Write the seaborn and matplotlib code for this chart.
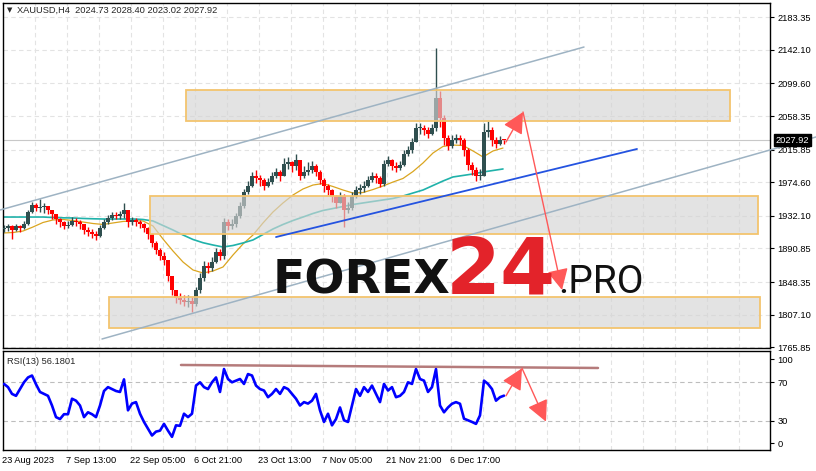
import numpy as np
import pandas as pd
import matplotlib
matplotlib.use("Agg")
import matplotlib.pyplot as plt
import seaborn as sns
from matplotlib.patches import Rectangle, FancyArrowPatch
import matplotlib.transforms as mtransforms

# ---------------- data ----------------
symbol_title = "XAUUSD,H4  2024.73 2028.40 2023.02 2027.92"
rsi_title = "RSI(13) 56.1801"

# candles (one candle per 4 H4 bars)
closes = [1916.7, 1919, 1914, 1919, 1917, 1922, 1937, 1946, 1942, 1943,
          1945, 1940, 1934, 1928, 1924, 1919, 1921, 1926, 1924, 1922,
          1914, 1912, 1909, 1907, 1917, 1924, 1929, 1933, 1932, 1934,
          1940, 1924, 1927, 1924, 1922, 1917, 1909, 1898, 1889, 1881,
          1876, 1856, 1838, 1828, 1826, 1823, 1824, 1821, 1838, 1853,
          1869, 1866, 1874, 1886, 1881, 1924, 1919, 1922, 1932, 1945,
          1962, 1970, 1983, 1980, 1977, 1970, 1975, 1983, 1988, 1983,
          1998, 2000, 1995, 2003, 1983, 1988, 1990, 1995, 1988, 1977,
          1970, 1965, 1957, 1948, 1957, 1940, 1942, 1957, 1965, 1967,
          1970, 1977, 1983, 1980, 1972, 1998, 2003, 1995, 1993, 1996,
          2010, 2015, 2026, 2043, 2043, 2041, 2036, 2043, 2081, 2056,
          2031, 2020, 2028, 2031, 2028, 2016, 1996, 1990, 1983, 1983,
          2038, 2041, 2028, 2023, 2028, 2027.92]
highs = [1921, 1922, 1920, 1922, 1920, 1925, 1940, 1950, 1948, 1953,
         1948, 1944, 1938, 1932, 1929, 1925, 1926, 1931, 1930, 1927,
         1922, 1918, 1915, 1913, 1920, 1928, 1933, 1937, 1937, 1938,
         1948, 1932, 1931, 1929, 1927, 1923, 1918, 1910, 1900, 1892,
         1886, 1876, 1856, 1838, 1834, 1832, 1832, 1830, 1842, 1860,
         1875, 1874, 1880, 1892, 1890, 1930, 1928, 1928, 1936, 1950,
         1966, 1976, 1988, 1990, 1984, 1980, 1980, 1988, 1993, 1990,
         2005, 2006, 2002, 2010, 2000, 1995, 2000, 2002, 1998, 1990,
         1980, 1972, 1966, 1958, 1962, 1960, 1950, 1962, 1970, 1972,
         1976, 1983, 1988, 1986, 1982, 2003, 2008, 2004, 2000, 2002,
         2015, 2020, 2030, 2050, 2050, 2047, 2045, 2048, 2144.5, 2090,
         2060, 2035, 2034, 2036, 2035, 2030, 2018, 2000, 1994, 1992,
         2050, 2052, 2045, 2032, 2033, 2028.4]
lows = [1912, 1913, 1903, 1913, 1912, 1915, 1920, 1936, 1938, 1937,
        1936, 1934, 1928, 1922, 1918, 1915, 1917, 1919, 1919, 1916,
        1909, 1906, 1904, 1901, 1905, 1915, 1922, 1927, 1928, 1928,
        1930, 1918, 1920, 1919, 1917, 1912, 1903, 1893, 1884, 1876,
        1870, 1850, 1832, 1822, 1820, 1818, 1817, 1810, 1818, 1835,
        1850, 1860, 1862, 1872, 1876, 1878, 1914, 1915, 1918, 1930,
        1942, 1960, 1968, 1974, 1970, 1965, 1968, 1972, 1980, 1976,
        1982, 1992, 1988, 1990, 1978, 1980, 1984, 1986, 1982, 1972,
        1962, 1958, 1950, 1942, 1948, 1918, 1936, 1940, 1955, 1960,
        1962, 1968, 1975, 1974, 1968, 1970, 1995, 1990, 1988, 1990,
        1995, 2008, 2012, 2025, 2036, 2034, 2030, 2034, 2040, 2045,
        2022, 2015, 2018, 2024, 2022, 2008, 1990, 1984, 1976, 1977,
        1982, 2032, 2020, 2018, 2022, 2023.0]
first_open = 1915.0

rsi_values = [68.3, 65, 58, 56, 63, 70, 75, 77, 68, 60,
              58, 56, 46, 34, 32, 37, 37, 53, 51, 46,
              34, 39, 37, 34, 46, 61, 65, 63, 61, 60,
              73, 41, 48, 49.5, 37.5, 29, 22, 15, 19, 20,
              27, 20, 13.6, 25.5, 25, 37.5, 34, 37.5, 66.6, 70,
              65, 63, 70, 75, 60, 83.7, 73.4, 70, 71.7, 73.4,
              68.3, 78.5, 77, 66.6, 63, 61.5, 54.6, 58, 63, 58,
              65, 63, 58, 53, 46, 49.5, 48, 51, 58, 41,
              29, 37.5, 25.5, 32, 44, 30.7, 29, 46, 63, 56,
              65, 60, 66.6, 58, 49.5, 68.3, 61.5, 65, 54.6, 56,
              60, 70, 68.3, 83.7, 73.4, 71.7, 60, 65, 83.7, 46,
              39, 44, 47.8, 49.5, 47.8, 32.4, 30.7, 29, 27, 35.8,
              71.7, 68.3, 63, 51, 54.6, 56.18]

# moving averages sampled every 10 bars
ma_fast = [1910.4, 1911.0, 1912.9, 1918.0, 1923.7, 1926.9, 1927.5, 1926.2, 1924.3, 1922.4,
           1921.2, 1923.1, 1925.0, 1925.6, 1925.6, 1919.3, 1902.8, 1887.6, 1873.7, 1863.6,
           1859.8, 1862.3, 1867.4, 1882.6, 1896.5, 1907.9, 1923.1, 1937.0, 1948.4, 1958.5,
           1966.1, 1971.1, 1973.0, 1969.2, 1964.8, 1961.0, 1961.6, 1965.4, 1969.9, 1974.9,
           1979.4, 1988.2, 1999.0, 2011.6, 2019.9, 2021.7, 2021.1, 2014.2, 2006.6, 2014.2,
           2017.9]
ma_slow = [1930.6, 1930.6, 1930.6, 1930.6, 1930.6, 1930.0, 1929.6, 1929.4, 1928.8, 1928.4,
           1928.1, 1928.1, 1928.1, 1928.1, 1927.5, 1925.6, 1919.9, 1914.2, 1907.9, 1902.2,
           1898.1, 1895.2, 1892.7, 1894.6, 1897.8, 1901.6, 1908.5, 1915.5, 1921.2, 1926.2,
           1930.6, 1935.1, 1938.9, 1941.4, 1943.9, 1946.5, 1948.4, 1950.3, 1952.2, 1954.1,
           1957.2, 1961.0, 1964.8, 1970.5, 1976.2, 1981.3, 1983.2, 1985.1, 1987.6, 1989.5,
           1991.4]

price_ticks = [2183.35, 2142.10, 2099.60, 2058.35, 2015.85, 1974.60,
               1932.10, 1890.85, 1848.35, 1807.10, 1765.85]
time_labels = ["23 Aug 2023", "7 Sep 13:00", "22 Sep 05:00", "6 Oct 21:00",
               "23 Oct 13:00", "7 Nov 05:00", "21 Nov 21:00", "6 Dec 17:00"]
rsi_levels = [70, 30]
rsi_tick_labels = ["100", "70", "30", "0"]
last_price = 2027.92

# drawn objects (bar index, price)
zone_tops = [2091.3, 1957.2, 1829.4]
zone_bottoms = [2052.1, 1908.8, 1789.8]
zone_starts = [183, 147, 106]
zone_ends = [727, 755, 757]
channel_upper = [(-3, 1939.5), (581, 2145.7)]
channel_lower = [(99, 1776.3), (813, 2031.9)]
trend_line = [(273, 1905.3), (634, 2016.7)]
price_arrow = [(503, 2025.5), (520, 2063.5), (559, 1838.3)]
rsi_arrow = [(503, 56.0), (519, 84.5), (543, 29.3)]
rsi_line = [(178, 87.9), (595, 84.8)]

# ---------------- styling ----------------
sns.set_style("white")
plt.rcParams["font.family"] = ["Liberation Sans", "DejaVu Sans"]
FS = 6.7
UP, DOWN = "#2F4F4F", "#FF0000"

W, H = 816, 471
fig = plt.figure(figsize=(W / 100, H / 100), dpi=100)
ax = fig.add_axes([3 / W, 1 - 348 / H, 767 / W, 345 / H])
axr = fig.add_axes([3 / W, 1 - 450 / H, 767 / W, 99 / H])

XMAX = 767
for a in (ax, axr):
    a.set_xlim(0, XMAX)
    for s in a.spines.values():
        s.set_color("black")
        s.set_linewidth(1.0)
    for b in range(32, XMAX, 32):
        a.axvline(b, color="#E3E3E3", lw=0.8, ls=(0, (4, 3)), zorder=0)

ax.set_ylim(1764.9, 2201.4)
axr.set_ylim(0, 102.35)

for p in price_ticks:
    ax.axhline(p, color="#E3E3E3", lw=0.8, ls=(0, (4, 3)), zorder=0)
for lv in rsi_levels:
    axr.axhline(lv, color="#BDBDBD", lw=0.8, ls=(0, (4, 3)), zorder=0)

ax.axhline(last_price, color="#C8C8C8", lw=0.8, zorder=1)

# ---------------- candles ----------------
n = len(closes)
df = pd.DataFrame({"bar": np.arange(n) * 4 + 1,
                   "open": [first_open] + closes[:-1],
                   "close": closes, "high": highs, "low": lows})
df["lo"] = df[["open", "close"]].min(axis=1)
df["hi"] = df[["open", "close"]].max(axis=1)
df["up"] = df["close"] >= df["open"]
body = (df["hi"] - df["lo"]).clip(lower=1.3)
colors = np.where(df["up"], UP, DOWN)
ax.vlines(df["bar"], df["low"], df["high"], colors=colors, lw=1.0, zorder=3)
ax.bar(df["bar"], body, bottom=df["lo"], width=3.5, color=colors, linewidth=0, zorder=3)

# moving averages
ma_bars = np.arange(len(ma_fast)) * 10
sns.lineplot(x=ma_bars, y=ma_fast, ax=ax, color="#DAA520", lw=0.9, zorder=2)
sns.lineplot(x=ma_bars, y=ma_slow, ax=ax, color="#20B2AA", lw=1.2, zorder=2)

# zones
for t, btm, s, e in zip(zone_tops, zone_bottoms, zone_starts, zone_ends):
    ax.add_patch(Rectangle((s, btm), e - s, t - btm, facecolor=(0.83, 0.83, 0.83, 0.65),
                           edgecolor="#F3C46E", lw=1.3, zorder=4))

for ln in (channel_upper, channel_lower):
    ax.plot([ln[0][0], ln[1][0]], [ln[0][1], ln[1][1]], color="#9EB3C3", lw=1.1,
            clip_on=False, zorder=5)
ax.plot([trend_line[0][0], trend_line[1][0]], [trend_line[0][1], trend_line[1][1]],
        color="#2453E0", lw=1.3, zorder=5)

def arrows(a, pts):
    for p0, p1 in zip(pts[:-1], pts[1:]):
        a.add_patch(FancyArrowPatch(p0, p1, arrowstyle="-|>,head_length=1.0,head_width=0.5",
                                    mutation_scale=13, color="#FF5858", lw=1.0,
                                    shrinkA=0, shrinkB=0, zorder=6))

arrows(ax, price_arrow)

# ---------------- RSI ----------------
sns.lineplot(x=df["bar"], y=rsi_values, ax=axr, color="#0000FF", lw=1.9, zorder=3)
axr.plot([rsi_line[0][0], rsi_line[1][0]], [rsi_line[0][1], rsi_line[1][1]],
         color="#A86464", lw=1.8, alpha=0.85, zorder=4)
arrows(axr, rsi_arrow)

# ---------------- axes / ticks ----------------
ax.set_xticks([])
ax.yaxis.tick_right()
ax.set_yticks(price_ticks)
ax.set_yticklabels([f"{p:.2f}" for p in price_ticks])
ax.tick_params(axis="y", direction="out", length=3, width=0.8, pad=2.5, labelsize=FS, colors="black")
ax.set_xlabel(""); ax.set_ylabel("")

axr.yaxis.tick_right()
axr.set_yticks([93.8, 70, 30, 6.9])
axr.set_yticklabels(rsi_tick_labels)
axr.tick_params(axis="y", direction="out", length=3, width=0.8, pad=2.5, labelsize=FS, colors="black")
axr.set_xticks(np.arange(len(time_labels)) * 64)
axr.set_xticklabels(time_labels)
axr.tick_params(axis="x", direction="out", length=3, width=0.8, pad=1.5, labelsize=FS, colors="black")
off = mtransforms.ScaledTranslation(-1.5 / 100, 0, fig.dpi_scale_trans)
for lab in axr.get_xticklabels():
    lab.set_ha("left")
    lab.set_transform(lab.get_transform() + off)
axr.set_xlabel(""); axr.set_ylabel("")

ax.annotate(f"{last_price:.2f}", xy=(1, last_price), xycoords=ax.get_yaxis_transform(),
            xytext=(4.2, 0), textcoords="offset points", ha="left", va="center",
            color="white", fontsize=FS, annotation_clip=False, zorder=10,
            bbox=dict(boxstyle="square,pad=0.18", fc="black", ec="black"))

fig.text(7 / W, 1 - 10 / H, "\u25BC", fontsize=5, family=["DejaVu Sans"], va="center", ha="left")
fig.text(17 / W, 1 - 10 / H, symbol_title, fontsize=FS, va="center", ha="left")
fig.text(7 / W, 1 - 361 / H, rsi_title, fontsize=FS, va="center", ha="left")

# watermark
yb = 1 - 293 / H
fig.text(273 / W, yb, "FOREX", fontsize=34, fontweight="bold", family=["DejaVu Sans"],
         color="#111111", va="baseline", ha="left", zorder=20)
fig.text(446 / W, yb, "24", fontsize=57, fontweight="bold", family=["DejaVu Sans"],
         color="#E3232A", va="baseline", ha="left", zorder=20)
fig.text(558 / W, yb, ".PRO", fontsize=28, family=["Roboto", "DejaVu Sans"],
         color="#111111", va="baseline", ha="left", zorder=20)

fig.savefig("out.png", dpi=100, facecolor="white")
